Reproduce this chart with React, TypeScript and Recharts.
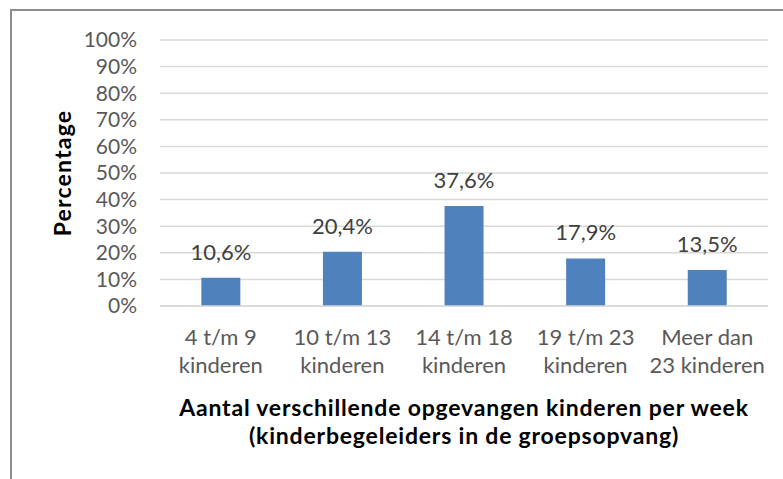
import React from "react";
import { BarChart, Bar, XAxis, YAxis, CartesianGrid, LabelList } from "recharts";

const categories = [
    "4 t/m 9\nkinderen",
    "10 t/m 13\nkinderen",
    "14 t/m 18\nkinderen",
    "19 t/m 23\nkinderen",
    "Meer dan\n23 kinderen",
];
const percentages = [10.6, 20.4, 37.6, 17.9, 13.5];
const yTicks = [0, 10, 20, 30, 40, 50, 60, 70, 80, 90, 100];
const xTitle = [
    "Aantal verschillende opgevangen kinderen per week",
    "(kinderbegeleiders in de groepsopvang)",
];
const yTitle = "Percentage";

const data = categories.map((name, i) => ({ name, value: percentages[i] }));

const font = "Lato, 'Open Sans', sans-serif";
const tickColor = "#595959";

const XTick = (props: any) => {
    const { x, y, payload } = props;
    const lines = String(payload.value).split("\n");
    return (
        <text x={x} y={y} textAnchor="middle" fill={tickColor} fontSize={22} fontFamily={font}>
            {lines.map((l, i) => (
                <tspan key={i} x={x} y={y + 39 + i * 28}>{l}</tspan>
            ))}
        </text>
    );
};

const XTitle = (props: any) => {
    const vb = props.viewBox;
    const cx = vb.x + vb.width / 2;
    return (
        <text x={cx} y={vb.y} textAnchor="middle" fill="#000" fontSize={23} fontWeight="bold"
              letterSpacing={0.8} fontFamily={font}>
            {xTitle.map((l, i) => (
                <tspan key={i} x={cx} y={vb.y + 110 + i * 28}>{l}</tspan>
            ))}
        </text>
    );
};

const YTitle = (props: any) => {
    const vb = props.viewBox;
    const cx = 71;
    const cy = vb.y + vb.height / 2;
    return (
        <text x={cx} y={cy} textAnchor="middle" fill="#000" fontSize={23} fontWeight="bold" letterSpacing={1.2}
              fontFamily={font} transform={`rotate(-90, ${cx}, ${cy})`}>
            {yTitle}
        </text>
    );
};

const fmt = (v: number) => v.toFixed(1).replace(".", ",") + "%";

export default function App() {
    return (
        <div style={{ position: "absolute", left: 0, top: 0, width: 783, height: 479, background: "#fff" }}>
            <div style={{
                position: "absolute", left: 10, top: 9, width: 771, height: 468,
                borderLeft: "2px solid #8c8c8c", borderTop: "2px solid #8c8c8c",
            }} />
            <BarChart width={783} height={479} data={data}
                      margin={{ top: 40, right: 15, bottom: 0, left: 10 }}
                      barCategoryGap="34%" style={{ position: "absolute", left: 0, top: 0 }}>
                <CartesianGrid vertical={false} stroke="#d9d9d9" strokeWidth={1.5} />
                <XAxis dataKey="name" tick={<XTick />} tickLine={false} tickSize={0} tickMargin={0}
                       axisLine={{ stroke: "#d9d9d9", strokeWidth: 1.5 }} height={173} interval={0}
                       label={<XTitle />} />
                <YAxis type="number" domain={[0, 100]} ticks={yTicks} tickFormatter={(v) => `${v}%`}
                       interval={0} width={150} axisLine={false} tickLine={false} tickSize={0} tickMargin={23}
                       tick={{ fill: tickColor, fontSize: 21, fontFamily: font }}
                       label={<YTitle />} />
                <Bar dataKey="value" fill="#4f81bd" isAnimationActive={false}>
                    <LabelList dataKey="value" position="top" offset={18} formatter={(v: any) => fmt(Number(v))}
                               fill="#404040" fontSize={22} fontFamily={font} />
                </Bar>
            </BarChart>
        </div>
    );
}
